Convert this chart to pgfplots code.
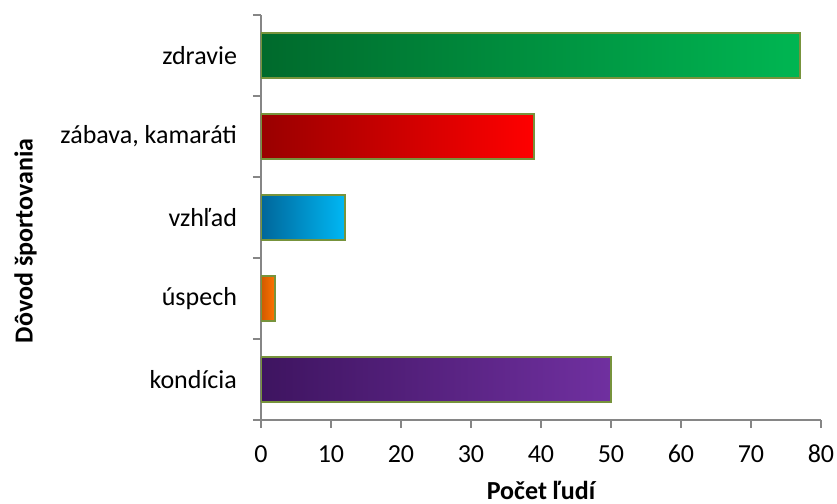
\documentclass[border=0pt]{standalone}
\usepackage{fontspec}
\setmainfont{Carlito}
\usepackage{pgfplots}
\pgfplotsset{compat=1.18}

\definecolor{axisgray}{HTML}{868686}
\definecolor{barline}{HTML}{77933C}
\definecolor{greenL}{HTML}{006A2C}
\definecolor{greenR}{HTML}{00B652}
\definecolor{redL}{HTML}{990000}
\definecolor{redR}{HTML}{FF0000}
\definecolor{blueL}{HTML}{00669A}
\definecolor{blueR}{HTML}{00B8F4}
\definecolor{orangeL}{HTML}{D05A00}
\definecolor{orangeR}{HTML}{FF7200}
\definecolor{purpleL}{HTML}{3E1460}
\definecolor{purpleR}{HTML}{7030A0}

\begin{document}
\begin{tikzpicture}
\begin{axis}[
    scale only axis,
    width=280pt, height=202.5pt,
    xmin=0, xmax=80,
    ymin=-0.5, ymax=4.5,
    axis lines*=left,
    axis line style={axisgray, line width=0.8pt},
    tick align=outside,
    major tick length=4pt,
    tick style={axisgray, line width=0.8pt},
    xtick={0,10,...,80},
    ytick={-0.5,0.5,...,4.5},
    yticklabels={},
    extra y ticks={0,1,2,3,4},
    extra y tick labels={kondícia,úspech,vzhľad,{zábava, kamaráti},zdravie},
    extra y tick style={major tick length=0pt, yticklabel style={xshift=-8.5pt}},
    tick label style={font=\fontsize{13}{15.6}\selectfont, text=black},
    xticklabel style={text height=8.5pt, text depth=0pt, yshift=-5pt},
    /pgf/number format/assume math mode=true,
    xlabel={Počet ľudí},
    ylabel={Dôvod športovania},
    label style={font=\bfseries\fontsize{13}{15.6}\selectfont},
    xlabel style={at={(axis description cs:0.5,-0.1963)}, anchor=base},
    ylabel style={at={(axis description cs:-0.408,0.442)}, anchor=base},
    bar width=0.555,
]
\addplot[xbar, bar shift=0pt, draw=barline, line width=0.8pt,
  left color=purpleL, right color=purpleR] coordinates {(50,0)};
\addplot[xbar, bar shift=0pt, draw=barline, line width=0.8pt,
  left color=orangeL, right color=orangeR] coordinates {(2,1)};
\addplot[xbar, bar shift=0pt, draw=barline, line width=0.8pt,
  left color=blueL, right color=blueR] coordinates {(12,2)};
\addplot[xbar, bar shift=0pt, draw=barline, line width=0.8pt,
  left color=redL, right color=redR] coordinates {(39,3)};
\addplot[xbar, bar shift=0pt, draw=barline, line width=0.8pt,
  left color=greenL, right color=greenR] coordinates {(77,4)};
\end{axis}
\pgfresetboundingbox
\path[use as bounding box] (-130.5pt,-42pt) rectangle (288pt,210pt);
\end{tikzpicture}
\end{document}
